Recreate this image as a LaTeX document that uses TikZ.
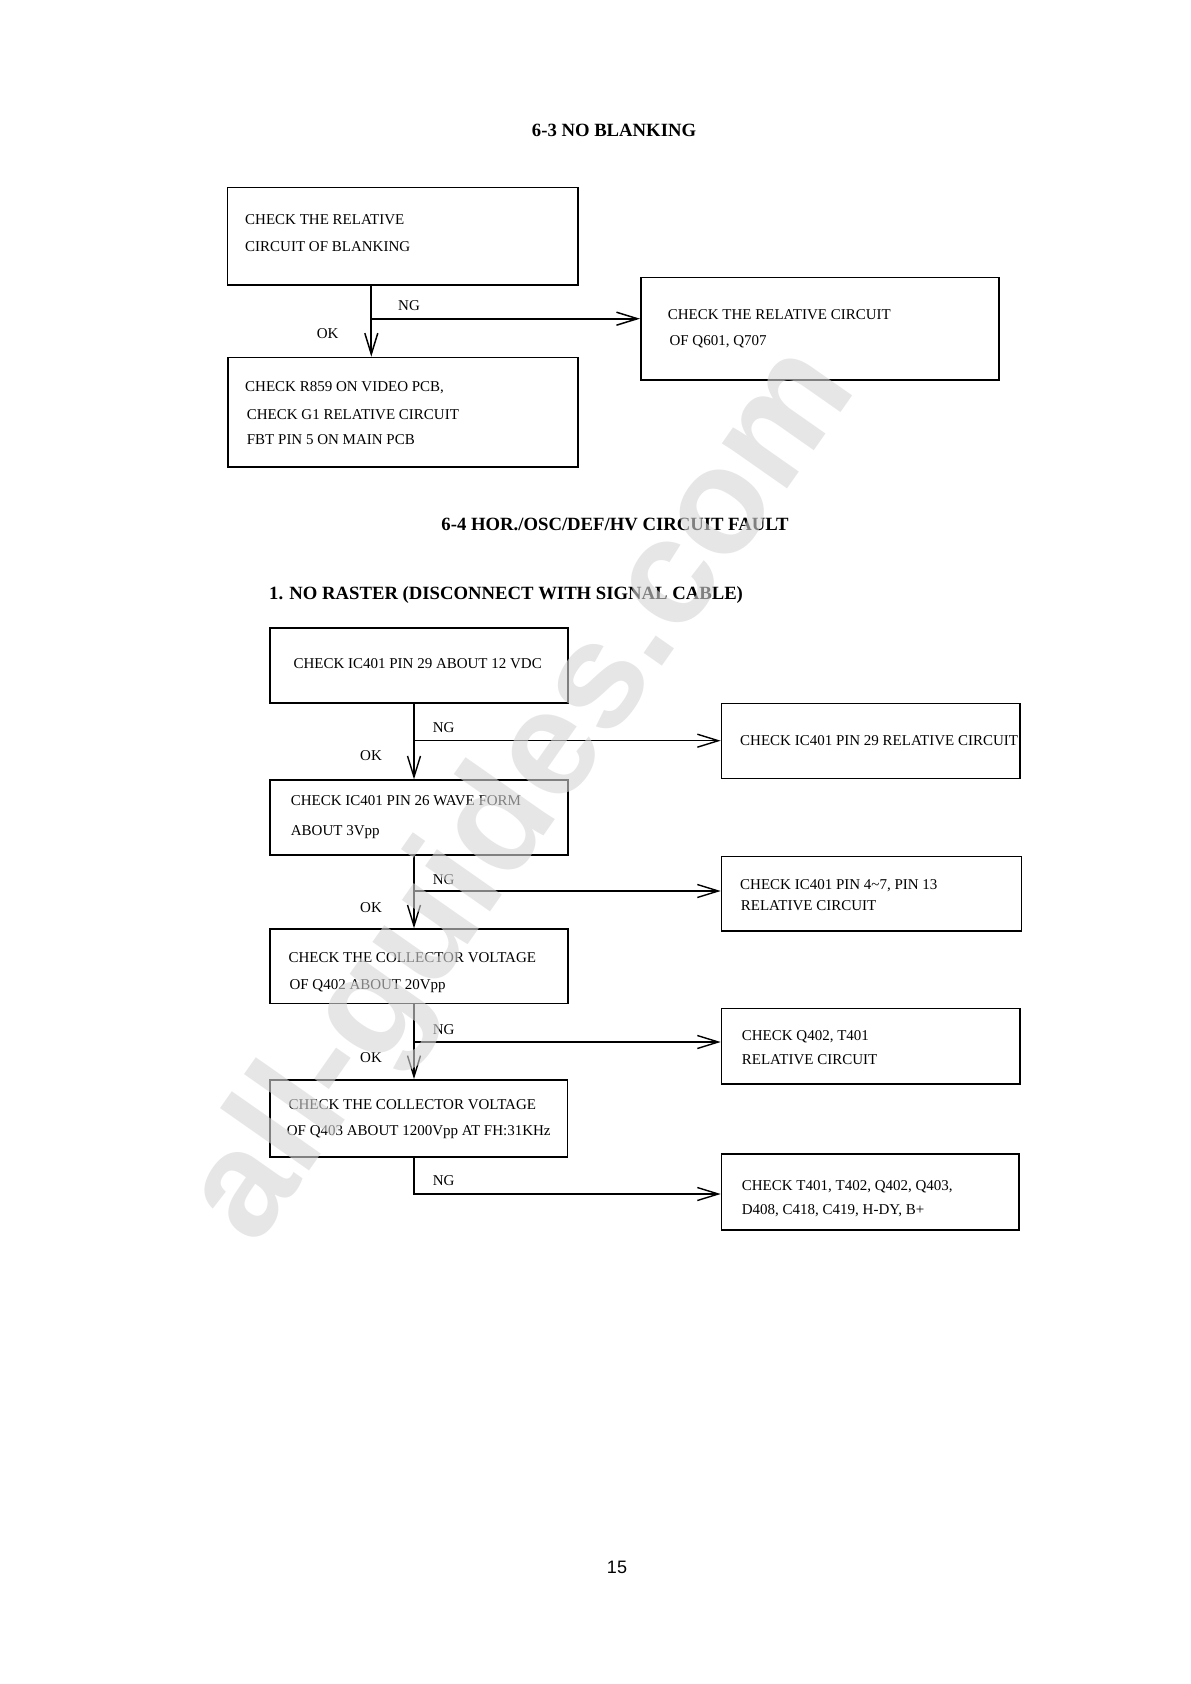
\documentclass[tikz,border=0pt]{standalone}
\usepackage{fontspec}
\setmainfont{Liberation Serif}
\newfontfamily\pagefont{Liberation Sans}
\usetikzlibrary{arrows.meta}
\tikzset{
  box/.style={draw, line width=1.7pt, rectangle, anchor=north west, inner sep=0pt},
  boxtwo/.style={box, line width=1.5pt},
  txt/.style={anchor=base west, inner sep=0pt, font=\fontsize{15}{18}\selectfont},
  ttl/.style={anchor=base, inner sep=0pt, font=\fontsize{18.7}{22}\selectfont\bfseries},
  conone/.style={line width=1.9pt, -{Straight Barb[length=21pt,width=13pt,line width=1.5pt]}},
  contwo/.style={line width=1.2pt, -{Straight Barb[length=21pt,width=13pt,line width=1.4pt]}},
  wm/.style={text=black!16, opacity=0.6, font=\pagefont\bfseries\fontsize{150}{150}\selectfont, rotate=55, inner sep=0pt}
}
\begin{document}
\begin{tikzpicture}[x=1pt,y=-1pt]
\useasboundingbox (0,0) rectangle (1191,1684);
\fill[white] (0,0) rectangle (1191,1684);

% ---------- 6-3 ----------
\node[ttl] (t1) at (614,136) {6-3 NO BLANKING};

\node[box, minimum width=350.3pt, minimum height=97.3pt] (A) at (226.7,186.7) {};
\node[box, minimum width=358.3pt, minimum height=102.6pt] (B) at (640,276.7) {};
\node[box, minimum width=350pt, minimum height=109.3pt] (C) at (227,356.7) {};

\node[txt] (a1) at (245,224.3) {CHECK THE RELATIVE};
\node[txt] (a2) at (245,251) {CIRCUIT OF BLANKING};
\node[txt] (b1) at (667.7,319.3) {CHECK THE RELATIVE CIRCUIT};
\node[txt] (b2) at (669.3,345) {OF Q601, Q707};
\node[txt] (c1) at (245,391.7) {CHECK R859 ON VIDEO PCB,};
\node[txt] (c2) at (246.7,419.3) {CHECK G1 RELATIVE CIRCUIT};
\node[txt] (c3) at (246.7,444.3) {FBT PIN 5 ON MAIN PCB};

\coordinate (j0) at (371.3,318.7);
\draw[conone] (A.south -| j0) -- (C.north -| j0);
\draw[conone] (j0) -- (B.west |- j0);
\node[txt] (ng0) at (398,310.7) {NG};
\node[txt] (ok0) at (316.7,338.7) {OK};

% ---------- 6-4 ----------
\node[ttl] (t2) at (615,530.7) {6-4 HOR./OSC/DEF/HV CIRCUIT FAULT};
\node[ttl, anchor=base west] (t3) at (269,599) {1. NO RASTER (DISCONNECT WITH SIGNAL CABLE)};

\node[boxtwo, minimum width=298pt, minimum height=75pt] (D1) at (269.3,627.3) {};
\node[boxtwo, minimum width=298.6pt, minimum height=75pt] (R1) at (720.7,702.7) {};
\node[boxtwo, minimum width=298pt, minimum height=75pt] (D2) at (269.3,779.3) {};
\node[boxtwo, minimum width=300pt, minimum height=74.3pt] (R2) at (720.7,855.7) {};
\node[boxtwo, minimum width=298pt, minimum height=74.4pt] (D3) at (269.3,928.3) {};
\node[boxtwo, minimum width=298.6pt, minimum height=75.3pt] (R3) at (720.7,1007.7) {};
\node[boxtwo, minimum width=297.4pt, minimum height=77.3pt] (D4) at (269.3,1079) {};
\node[boxtwo, minimum width=297.6pt, minimum height=76pt] (R4) at (720.7,1153.3) {};

\node[txt] (d1) at (293.3,668.3) {CHECK IC401 PIN 29 ABOUT 12 VDC};
\node[txt] (r1) at (740,745) {CHECK IC401 PIN 29 RELATIVE CIRCUIT};
\node[txt] (d2a) at (290.7,805.7) {CHECK IC401 PIN 26 WAVE FORM};
\node[txt] (d2b) at (290.7,835) {ABOUT 3Vpp};
\node[txt] (r2a) at (740,889) {CHECK IC401 PIN 4\char"7E 7, PIN 13};
\node[txt] (r2b) at (740.7,910.7) {RELATIVE CIRCUIT};
\node[txt] (d3a) at (288.3,962.3) {CHECK THE COLLECTOR VOLTAGE};
\node[txt] (d3b) at (289.3,989.3) {OF Q402 ABOUT 20Vpp};
\node[txt] (r3a) at (741.7,1040) {CHECK Q402, T401};
\node[txt] (r3b) at (741.7,1064) {RELATIVE CIRCUIT};
\node[txt] (d4a) at (288.3,1109.3) {CHECK THE COLLECTOR VOLTAGE};
\node[txt] (d4b) at (286.7,1135) {OF Q403 ABOUT 1200Vpp AT FH:31KHz};
\node[txt] (r4a) at (741.7,1190.7) {CHECK T401, T402, Q402, Q403,};
\node[txt] (r4b) at (741.7,1214.3) {D408, C418, C419, H-DY, B+};

\coordinate (j1) at (414,740.7);
\coordinate (j2) at (414,891);
\coordinate (j3) at (414,1042);
\coordinate (j4) at (414,1194);

\draw[contwo] (D1.south -| j1) -- (D2.north -| j1);
\draw[contwo] (j1) -- (R1.west |- j1);
\draw[contwo] (D2.south -| j2) -- (D3.north -| j2);
\draw[contwo] (j2) -- (R2.west |- j2);
\draw[contwo] (D3.south -| j3) -- (D4.north -| j3);
\draw[contwo] (j3) -- (R3.west |- j3);
\draw[contwo] (D4.south -| j4) -- (j4) -- (R4.west |- j4);

\node[txt] (ng1) at (432.7,732.7) {NG};
\node[txt] (ok1) at (360,760.7) {OK};
\node[txt] (ng2) at (432.7,884) {NG};
\node[txt] (ok2) at (360,912.3) {OK};
\node[txt] (ng3) at (432.7,1034) {NG};
\node[txt] (ok3) at (360,1062.7) {OK};
\node[txt] (ng4) at (432.7,1185) {NG};

% page number
\node[anchor=base, inner sep=0pt, font=\pagefont\fontsize{18}{20}\selectfont] (pg) at (617,1573) {15};

% watermark
\node[wm] (wmk) at (525,796) {all-guides.com};
\end{tikzpicture}
\end{document}
